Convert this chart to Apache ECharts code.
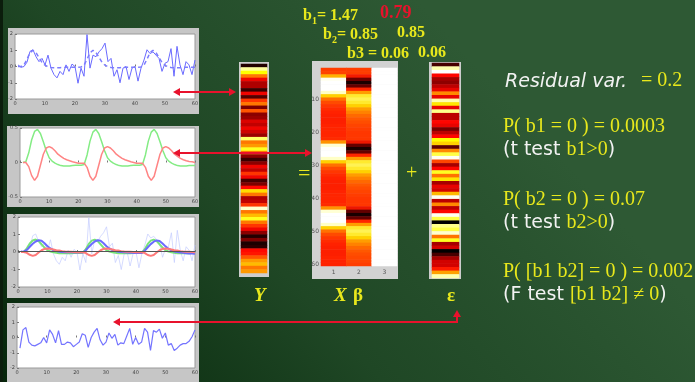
<!DOCTYPE html>
<html>
<head>
<meta charset="utf-8">
<script src="https://cdn.jsdelivr.net/npm/echarts@6/dist/echarts.min.js"></script>
<style>
  html, body { margin: 0; padding: 0; background: #17391c; }
  #chart { width: 695px; height: 382px; }
</style>
</head>
<body>
<div id="chart"></div>
<script>
// ---- measured signal Y (60 scans) ----
const signalY = [0.1,-0.05,0,0.27,0.93,1.03,0.6,0.3,0.5,0.1, 0.7,-0.1,-0.5,-0.7,-0.3,-0.5,0.1,-0.3,0.15,0,
  -1.03,-0.1,-0.6,1.96,-0.1,0.7,0.6,0.9,1.1,1.44, 0.3,0.5,-0.6,-0.2,-1.0,-0.1,0,-0.8,-0.1,0,
  -0.9,-0.1,0.4,1.03,0.8,0.9,0.7,0.5,-0.3,0.2, 0.3,1.1,-0.6,1.24,0.1,-0.5,0.3,0.1,-0.5,0.4];

// ---- model prediction overlaid on Y (dashed) ----
const predicted = [0,0,0.1,0.45,0.85,1.0,0.85,0.55,0.25,0.08,-0.02,-0.06,-0.08,-0.08,-0.07,-0.06,-0.05,-0.05,-0.04,-0.04,
  -0.04,-0.03,0.08,0.44,0.84,1.0,0.86,0.56,0.26,0.08,-0.02,-0.06,-0.08,-0.08,-0.07,-0.06,-0.05,-0.05,-0.04,-0.04,
  -0.04,-0.03,0.09,0.45,0.85,1.0,0.85,0.55,0.25,0.07,-0.02,-0.06,-0.08,-0.08,-0.07,-0.06,-0.05,-0.05,-0.04,-0.04];

// ---- regressors: HRF-convolved stimulus and its temporal derivative ----
const regHrf = [0,0.01,0.14,0.33,0.45,0.48,0.42,0.3,0.17,0.07,0.02,-0.01,-0.03,-0.045,-0.05,-0.05,-0.05,-0.045,-0.04,-0.04,
  -0.04,-0.03,0.11,0.31,0.44,0.48,0.42,0.3,0.17,0.07,0.02,-0.01,-0.03,-0.045,-0.05,-0.05,-0.05,-0.045,-0.04,-0.04,
  -0.04,-0.03,0.11,0.31,0.44,0.48,0.42,0.3,0.17,0.07,0.02,-0.01,-0.03,-0.045,-0.05,-0.05,-0.05,-0.045,-0.045,-0.045];
const regDeriv = [0,0,-0.06,-0.19,-0.26,-0.2,-0.04,0.12,0.21,0.23,0.21,0.17,0.12,0.09,0.06,0.04,0.025,0.01,0,-0.01,
  -0.01,-0.01,-0.07,-0.2,-0.26,-0.2,-0.04,0.12,0.21,0.23,0.21,0.17,0.12,0.09,0.06,0.04,0.025,0.01,0,-0.01,
  -0.01,-0.01,-0.07,-0.2,-0.26,-0.2,-0.04,0.12,0.21,0.23,0.21,0.17,0.12,0.09,0.06,0.04,0.025,0.015,0.01,0];
const regConst = [1,1,1,1,1,1,1,1,1,1,1,1,1,1,1,1,1,1,1,1,1,1,1,1,1,1,1,1,1,1,
  1,1,1,1,1,1,1,1,1,1,1,1,1,1,1,1,1,1,1,1,1,1,1,1,1,1,1,1,1,1];

// ---- weighted components and their sum ----
const partB1 = [0,0.01,0.21,0.49,0.66,0.71,0.62,0.44,0.25,0.1,0.03,-0.01,-0.04,-0.07,-0.07,-0.07,-0.07,-0.07,-0.06,-0.06,
  -0.06,-0.04,0.16,0.46,0.65,0.71,0.62,0.44,0.25,0.1,0.03,-0.01,-0.04,-0.07,-0.07,-0.07,-0.07,-0.07,-0.06,-0.06,
  -0.06,-0.04,0.16,0.46,0.65,0.71,0.62,0.44,0.25,0.1,0.03,-0.01,-0.04,-0.07,-0.07,-0.07,-0.07,-0.07,-0.06,-0.06];
const partB2 = [0,0,-0.05,-0.16,-0.22,-0.17,-0.03,0.1,0.18,0.2,0.18,0.14,0.1,0.08,0.05,0.03,0.02,0.01,0,-0.01,
  -0.01,-0.01,-0.06,-0.17,-0.22,-0.17,-0.03,0.1,0.18,0.2,0.18,0.14,0.1,0.08,0.05,0.03,0.02,0.01,0,-0.01,
  -0.01,-0.01,-0.06,-0.17,-0.22,-0.17,-0.03,0.1,0.18,0.2,0.18,0.14,0.1,0.08,0.05,0.03,0.02,0.01,0,-0.01];
const fitSum = [0.02,0.03,0.12,0.3,0.47,0.6,0.67,0.64,0.5,0.33,0.2,0.11,0.05,0.02,0,-0.01,-0.02,-0.02,-0.03,-0.03,
  -0.03,-0.03,0.1,0.29,0.46,0.6,0.67,0.64,0.5,0.33,0.2,0.11,0.05,0.02,0,-0.01,-0.03,-0.04,-0.05,-0.05,
  -0.05,-0.05,0.08,0.27,0.45,0.59,0.66,0.63,0.49,0.32,0.19,0.1,0.03,0,-0.03,-0.05,-0.07,-0.08,-0.09,-0.1];
const constLevel = 0.06;

// ---- residuals ----
const residual = [-0.7,0.5,0.65,-0.3,-0.5,-0.55,-0.45,-0.35,0.0,-0.35, 0.5,0.2,-0.35,0.45,-0.45,-0.45,-0.3,-0.35,-0.6,-0.45,
  -0.3,0.25,0.15,-0.65,0.0,0.35,0.6,-0.15,-0.5,-0.3, 0.3,-0.05,0.2,-0.5,-0.35,-0.4,0.1,0.6,-0.45,0.0,
  -0.45,-0.3,0.6,0.35,-0.85,0.45,0.35,0.55,-0.05,0.3, -0.5,-0.4,-0.85,-0.7,-0.5,-0.4,-0.4,-0.25,0.05,0.5];

// ---- Y as a colour column (scaled 0..1) ----
const yColumnLevels = [0.05,0.9,0.75,0.55,0.35,0.25,0.25,0.08,0.35,0.12, 0.45,0.55,0.18,0.5,0.2,0.22,0.32,0.28,0.35,0.3,
  0.22,0.85,0.55,0.6,0.78,0.55,0.2,0.08,0.2,0.35, 0.28,0.45,0.35,0.1,0.18,0.38,0.7,0.55,0.25,0.28,
  0.45,0.95,0.55,0.65,0.78,0.55,0.45,0.35,0.2,0.05, 0.18,0.04,0.06,0.38,0.4,0.5,0.6,0.65,0.55,0.6];

const designCols = ['1', '2', '3'];
const scanRows = signalY.map((_, i) => String(i + 1));

// ---- styling ----
const YEL = '#e8e81c';
const WHITE = '#f2f2f2';
const RED = '#e8122c';
const SERIF = '"Liberation Serif", "Times New Roman", serif';
const SANS = '"DejaVu Sans", sans-serif';
const HOT = ['#000000', '#570000', '#ae0000', '#ff0500', '#ff5500', '#ffaa00', '#ffff00', '#ffff80', '#ffffff'];
const HOT_MATRIX = ['#000000', '#600000', '#c00000', '#ff2000', '#ff5000', '#ff9000', '#ffe000', '#ffff90', '#ffffff'];

const pairs = arr => arr.map((v, i) => [i + 1, v]);

const linePanels = [
  { left: 15, top: 34, width: 180, height: 65, min: -2, max: 2, step: 1 },
  { left: 20, top: 128, width: 175, height: 69, min: -0.5, max: 0.5, step: 0.5 },
  { left: 18, top: 217, width: 177, height: 70, min: -2, max: 2, step: 1 },
  { left: 17, top: 307, width: 178, height: 61, min: -2, max: 2, step: 1 }
];

const grids = linePanels.map(p => ({
  left: p.left, top: p.top, width: p.width, height: p.height,
  show: true, backgroundColor: '#ffffff', borderColor: '#9a9a9a', borderWidth: 1
}));
grids.push({ left: 241, top: 64, width: 26, height: 209 });   // Y column
grids.push({ left: 321, top: 68, width: 76, height: 198 });   // design matrix
grids.push({ left: 432, top: 63, width: 27, height: 215 });   // residual column

const tinyLabel = { fontSize: 5, color: '#444', fontFamily: SANS };

const xAxes = linePanels.map((p, gi) => ({
  type: 'value', gridIndex: gi, min: 0, max: 60, interval: 10,
  axisLine: { show: false },
  axisTick: { show: true, inside: true, length: 2, lineStyle: { color: '#777' } },
  axisLabel: Object.assign({ margin: 2 }, tinyLabel),
  splitLine: { show: false }
}));
const yAxes = linePanels.map((p, gi) => ({
  type: 'value', gridIndex: gi, min: p.min, max: p.max, interval: p.step,
  axisLine: { show: false },
  axisTick: { show: true, inside: true, length: 2, lineStyle: { color: '#777' } },
  axisLabel: Object.assign({ margin: 2 }, tinyLabel),
  splitLine: { show: false }
}));

// heatmap axes
xAxes.push({ type: 'category', gridIndex: 4, data: ['Y'], show: false });
yAxes.push({ type: 'category', gridIndex: 4, data: scanRows, inverse: true, show: false });
xAxes.push({
  type: 'category', gridIndex: 5, data: designCols,
  axisLine: { show: false },
  axisTick: { show: true, inside: true, length: 2, alignWithLabel: true, lineStyle: { color: '#888' } },
  axisLabel: { fontSize: 6, color: '#555', margin: 3, fontFamily: SANS },
  splitLine: { show: false }
});
yAxes.push({
  type: 'category', gridIndex: 5, data: scanRows, inverse: true,
  axisLine: { show: false },
  axisTick: { show: true, inside: true, length: 2, alignWithLabel: true,
    interval: i => (i + 1) % 10 === 0, lineStyle: { color: '#888' } },
  axisLabel: { fontSize: 6, color: '#555', margin: 2, fontFamily: SANS,
    interval: i => (i + 1) % 10 === 0 },
  splitLine: { show: false }
});
xAxes.push({ type: 'category', gridIndex: 6, data: ['e'], show: false });
yAxes.push({ type: 'category', gridIndex: 6, data: scanRows, inverse: true, show: false });

function line(idx, data, color, width, extra) {
  return Object.assign({
    type: 'line', xAxisIndex: idx, yAxisIndex: idx, data: pairs(data),
    symbol: 'none', silent: true, animation: false,
    lineStyle: { color: color, width: width }
  }, extra || {});
}

const matrixCells = [];
[regHrf, regDeriv, regConst].forEach((col, c) => col.forEach((v, r) => matrixCells.push([c, r, v])));

const series = [
  line(0, signalY, '#6a6aff', 1),
  line(0, predicted, '#7c7cff', 1.5, { lineStyle: { color: '#7c7cff', width: 1.5, type: [4, 3] } }),
  line(1, regHrf, '#84ec84', 1.5),
  line(1, regDeriv, '#ff8484', 1.5),
  line(2, signalY, '#c3cbff', 0.7),
  line(2, partB1, '#78e478', 2),
  line(2, fitSum, '#6a6aff', 2, {
    markLine: { silent: true, symbol: 'none', label: { show: false },
      lineStyle: { color: '#555', width: 1, type: 'solid' }, data: [{ yAxis: constLevel }] }
  }),
  line(2, partB2, '#ff7878', 2),
  line(3, residual, '#7474ff', 1.2),
  { type: 'heatmap', xAxisIndex: 4, yAxisIndex: 4, silent: true, animation: false,
    data: yColumnLevels.map((v, r) => [0, r, v]) },
  { type: 'heatmap', xAxisIndex: 5, yAxisIndex: 5, silent: true, animation: false,
    data: matrixCells },
  { type: 'heatmap', xAxisIndex: 6, yAxisIndex: 6, silent: true, animation: false,
    data: residual.map((v, r) => [0, r, v]) }
];

const visualMap = [
  { type: 'continuous', show: false, seriesIndex: 9, dimension: 2, min: 0, max: 1, inRange: { color: HOT } },
  { type: 'continuous', show: false, seriesIndex: 10, dimension: 2, min: -0.28, max: 0.34, inRange: { color: HOT_MATRIX } },
  { type: 'continuous', show: false, seriesIndex: 11, dimension: 2, min: -0.85, max: 0.62, inRange: { color: HOT } }
];

// ---- decorations: background, figure frames, arrows, text ----
function rect(x, y, w, h, fill, z) {
  return { type: 'rect', z: z, silent: true, shape: { x: x, y: y, width: w, height: h }, style: { fill: fill } };
}
function text(x, y, str, o) {
  return { type: 'text', z: 100, silent: true,
    style: Object.assign({ x: x, y: y, text: str, fill: YEL, fontFamily: SERIF, fontSize: 16,
      fontWeight: 'bold', align: 'left', verticalAlign: 'middle' }, o || {}) };
}
function seg(points) {
  return { type: 'polyline', z: 90, silent: true, shape: { points: points },
    style: { stroke: RED, lineWidth: 2, fill: null } };
}
function head(points) {
  return { type: 'polygon', z: 91, silent: true, shape: { points: points }, style: { fill: RED } };
}

const graphic = [
  { type: 'rect', z: -100, silent: true, shape: { x: 0, y: 0, width: 695, height: 382 },
    style: { fill: new echarts.graphic.LinearGradient(0, 1, 0.6, 0, [
      { offset: 0, color: '#05250a' }, { offset: 0.5, color: '#1f4725' }, { offset: 1, color: '#2e5934' }]) } },
  rect(0, 0, 3, 382, '#0b1d0c', -99),
  rect(8, 28, 191, 86, '#c6c6c6', -50),
  rect(7, 126, 192, 81, '#c6c6c6', -50),
  rect(7, 214, 192, 84, '#c6c6c6', -50),
  rect(7, 303, 192, 80, '#c6c6c6', -50),
  rect(239, 62, 30, 215, '#cdcdcd', -50),
  rect(312, 61, 86, 218, '#d2d2d2', -50),
  rect(429, 62, 32, 217, '#cdcdcd', -50),

  // arrows
  seg([[178, 92], [231, 92]]),
  head([[173, 92], [180, 88], [180, 96]]),
  head([[236, 92], [229, 88], [229, 96]]),
  seg([[178, 153], [307, 153]]),
  head([[173, 153], [180, 149], [180, 157]]),
  head([[312, 153], [305, 149], [305, 157]]),
  seg([[118, 322], [457, 322], [457, 315]]),
  head([[113, 322], [120, 318], [120, 326]]),
  head([[457, 310], [453, 317], [461, 317]]),

  // coefficient estimates
  text(303, 16, 'b'),
  text(312, 21, '1', { fontSize: 10 }),
  text(317, 16, '= 1.47'),
  text(380, 13, '0.79', { fill: RED, fontSize: 18 }),
  text(323, 35, 'b'),
  text(332, 40, '2', { fontSize: 10 }),
  text(337, 35, '= 0.85'),
  text(397, 33, '0.85'),
  text(347, 54, 'b3 = 0.06'),
  text(418, 53, '0.06'),

  // equation
  text(298, 174, '=', { fontWeight: 'normal', fontSize: 22 }),
  text(406, 174, '+', { fontWeight: 'normal', fontSize: 20 }),
  text(254, 296, 'Y', { fontStyle: 'italic', fontSize: 19 }),
  text(334, 296, 'X', { fontStyle: 'italic', fontSize: 19 }),
  text(353, 296, 'β', { fontSize: 19 }),
  text(447, 296, 'ε', { fontSize: 19 }),

  // statistics
  text(505, 82, 'Residual var.', { fill: WHITE, fontFamily: SANS, fontStyle: 'italic', fontWeight: 'normal', fontSize: 19 }),
  text(641, 81, '= 0.2', { fontWeight: 'normal', fontSize: 20 }),
  text(503, 127, 'P( b1 = 0 ) = 0.0003', { fontWeight: 'normal', fontSize: 20 }),
  text(503, 150, '{w|(t test }{y|b1>0}{w|)}', { fontWeight: 'normal', rich: {
    w: { fill: WHITE, fontFamily: SANS, fontSize: 19 }, y: { fill: YEL, fontFamily: SERIF, fontSize: 20 } } }),
  text(503, 200, 'P( b2 = 0 ) = 0.07', { fontWeight: 'normal', fontSize: 20 }),
  text(503, 223, '{w|(t test }{y|b2>0}{w|)}', { fontWeight: 'normal', rich: {
    w: { fill: WHITE, fontFamily: SANS, fontSize: 19 }, y: { fill: YEL, fontFamily: SERIF, fontSize: 20 } } }),
  text(503, 272, 'P( [b1 b2] = 0 ) = 0.002', { fontWeight: 'normal', fontSize: 20 }),
  text(503, 295, '{w|(F test }{y|[b1 b2] ≠ 0}{w|)}', { fontWeight: 'normal', rich: {
    w: { fill: WHITE, fontFamily: SANS, fontSize: 19 }, y: { fill: YEL, fontFamily: SERIF, fontSize: 20 } } })
];

const chart = echarts.init(document.getElementById('chart'), null, { renderer: 'canvas' });
chart.setOption({
  animation: false,
  textStyle: { fontFamily: SANS },
  grid: grids,
  xAxis: xAxes,
  yAxis: yAxes,
  visualMap: visualMap,
  series: series,
  graphic: graphic
});
</script>
</body>
</html>
